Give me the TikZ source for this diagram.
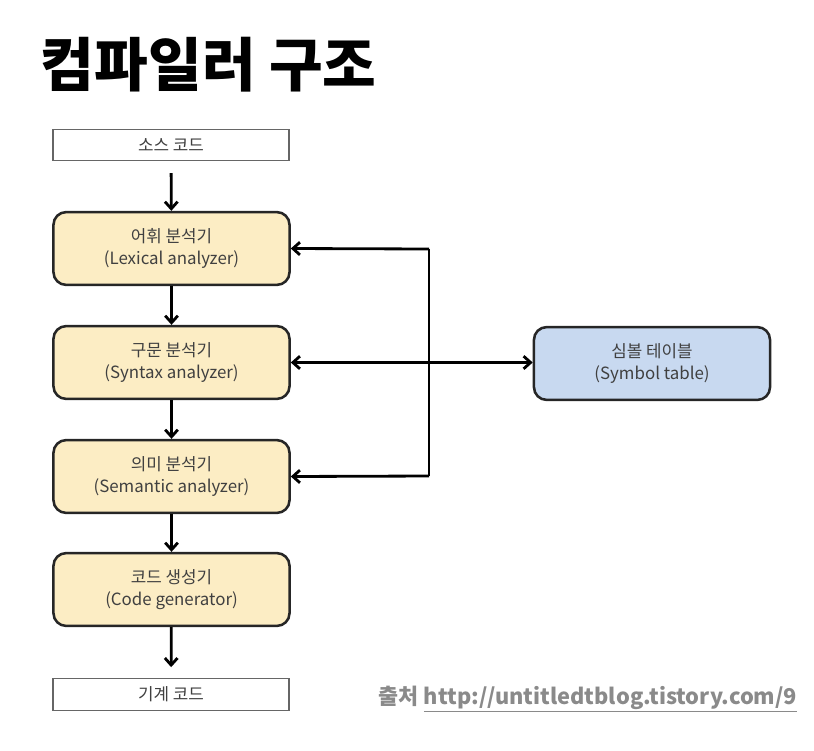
\documentclass[tikz,border=0pt]{standalone}
\usepackage{fontspec}
\usepackage{xcolor}
\setmainfont{Noto Sans CJK KR}
\usetikzlibrary{arrows.meta}
\definecolor{stageyellow}{HTML}{FCEDC4}
\definecolor{tableblue}{HTML}{C8D9F0}
\definecolor{boxtext}{HTML}{404040}
\definecolor{notegray}{HTML}{8A8A8A}
\tikzset{
  stage/.style={draw=black!85,line width=1.8pt,rounded corners=9pt,fill=stageyellow,
    minimum width=5.9cm,minimum height=1.82cm,align=center,text=boxtext,
    font=\fontsize{12}{15.5}\selectfont},
  endbox/.style={draw=black!60,line width=0.8pt,fill=white,
    minimum width=5.9cm,minimum height=0.78cm,text=boxtext,
    font=\fontsize{12}{15.5}\selectfont},
  flow/.style={line width=2pt,-{Straight Barb[length=5pt,width=9pt,line width=2pt]}},
}
\begin{document}
\begin{tikzpicture}[x=0.025cm,y=-0.025cm]
\useasboundingbox (0,0) rectangle (814,750);
\node[anchor=west,font=\fontsize{41.5}{48}\selectfont\bfseries] (title) at (36,65) {컴파일러 구조};
%%
\node[endbox] (src) at (171,145) {소스 코드};
\node[stage] (lex) at (171.5,248.5) {어휘 분석기\\(Lexical analyzer)};
\node[stage] (syn) at (171.5,362.5) {구문 분석기\\(Syntax analyzer)};
\node[stage] (sem) at (171.5,476.5) {의미 분석기\\(Semantic analyzer)};
\node[stage] (gen) at (171.5,589.5) {코드 생성기\\(Code generator)};
\node[endbox] (mach) at (171,694.5) {기계 코드};
\node[stage,fill=tableblue] (sym) at (652,363.5) {심볼 테이블\\(Symbol table)};
%%
\draw[flow,shorten <=0.3cm](src)--(lex);
\draw[flow](lex)--(syn);
\draw[flow](syn)--(sem);
\draw[flow](sem)--(gen);
\draw[flow,shorten >=0.28cm](gen)--(mach);
%%
\coordinate (bustop) at (429,249);
\coordinate (busbot) at (429,476);
\draw[line width=2pt](bustop)--(busbot);
\draw[flow](bustop)--(lex.east);
\draw[flow](busbot)--(sem.east);
\draw[flow,{Straight Barb[length=5pt,width=9pt,line width=2pt]}-{Straight Barb[length=5pt,width=9pt,line width=2pt]}](syn.east)--(syn.east-|sym.west);
%%
\node[anchor=east,text=notegray,font=\fontsize{15.5}{18}\selectfont\bfseries] (note) at (802,699)
  {출처 \underline{http://untitledtblog.tistory.com/9}};
\end{tikzpicture}
\end{document}
